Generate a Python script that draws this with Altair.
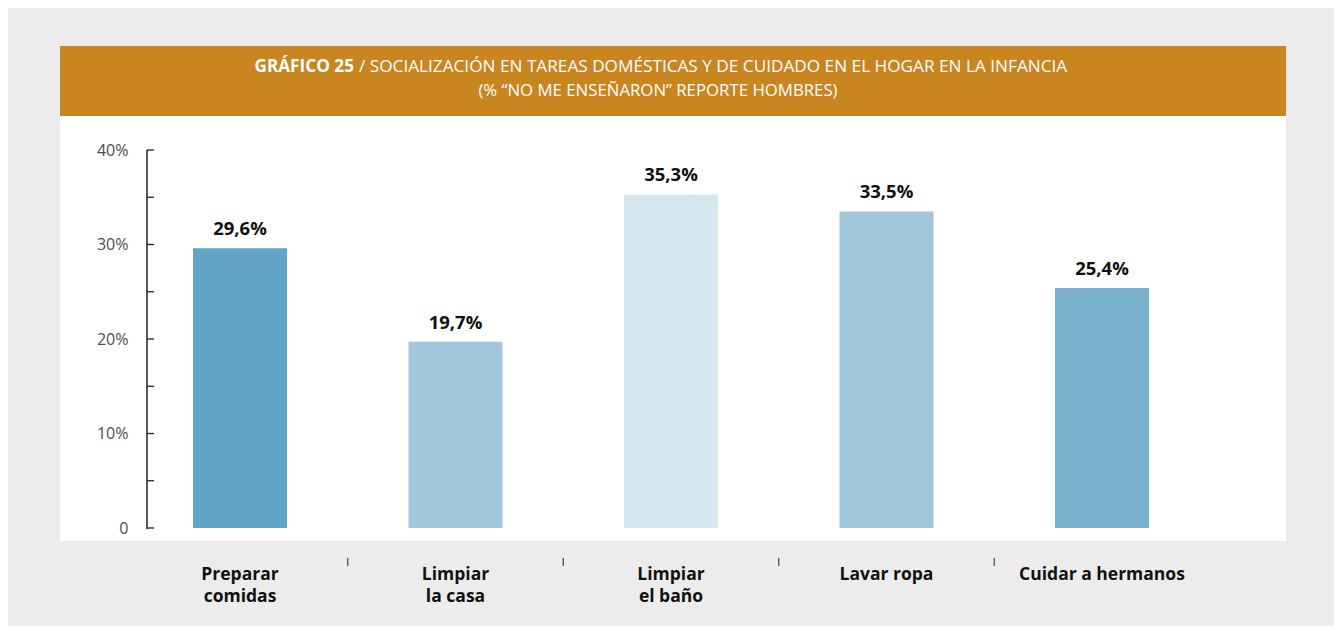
import altair as alt
import pandas as pd

# ---- data ----
categories = ["Preparar\ncomidas", "Limpiar\nla casa", "Limpiar\nel baño", "Lavar ropa", "Cuidar a hermanos"]
values = [29.6, 19.7, 35.3, 33.5, 25.4]
bar_colors = ["#62a4c5", "#a0c8da", "#d6e7ef", "#a0c8da", "#79b0cb"]
y_ticks = [0, 5, 10, 15, 20, 25, 30, 35, 40]
y_labels = [0, 10, 20, 30, 40]
title_bold = "GRÁFICO 25"
title_line1 = "/ SOCIALIZACIÓN EN TAREAS DOMÉSTICAS Y DE CUIDADO EN EL HOGAR EN LA INFANCIA"
title_line2 = "(% “NO ME ENSEÑARON” REPORTE HOMBRES)"

FONT = "Open Sans"
W, H = 1048, 378

df = pd.DataFrame({"cat": categories, "value": values, "color": bar_colors})
ticks_df = pd.DataFrame({"value": y_ticks})
sep_df = pd.DataFrame({"cat": categories[1:]})

xscale = alt.Scale(domain=categories, paddingInner=0.5638, paddingOuter=0.2135)
yscale = alt.Scale(domain=[0, 40], nice=False, zero=True)
yaxis = alt.Axis(title=None, values=y_labels, ticks=False, tickSize=0, domain=False,
                 grid=False, labelPadding=19, zindex=2,
                 labelExpr="datum.value == 0 ? '0' : datum.value + '%'",
                 labelFont=FONT, labelFontSize=16, labelFontWeight="normal",
                 labelColor="#4d4d4d")
xaxis = alt.Axis(title=None, ticks=False, domain=False, labelAngle=0, zindex=2,
                 labelExpr="split(datum.label, '\\n')",
                 labelPadding=37, labelBaseline="top", labelLineHeight=22,
                 labelFont=FONT, labelFontSize=17.5, labelFontWeight="bold",
                 labelColor="#111111")

one = alt.Data(values=[{}])

panel = alt.Chart(one).mark_rect(color="white").encode(
    x=alt.value(-87), x2=alt.value(1139), y=alt.value(-104), y2=alt.value(391)
)
band = alt.Chart(one).mark_rect(color="#c88520").encode(
    x=alt.value(-87), x2=alt.value(1139), y=alt.value(-104), y2=alt.value(-34)
)
t_bold = alt.Chart(one).mark_text(
    font=FONT, fontSize=17.2, fontWeight="bold", color="white", align="right", baseline="middle"
).encode(x=alt.value(207), y=alt.value(-83), text=alt.value(title_bold))
t_reg1 = alt.Chart(one).mark_text(
    font=FONT, fontSize=17.2, color="white", align="left", baseline="middle"
).encode(x=alt.value(212), y=alt.value(-83), text=alt.value(title_line1))
t_reg2 = alt.Chart(one).mark_text(
    font=FONT, fontSize=16.8, color="white", align="center", baseline="middle"
).encode(x=alt.value(511), y=alt.value(-59), text=alt.value(title_line2))

bars = alt.Chart(df).mark_bar().encode(
    x=alt.X("cat:N", scale=xscale, sort=categories, axis=xaxis),
    y=alt.Y("value:Q", scale=yscale, axis=yaxis),
    color=alt.Color("color:N", scale=None),
)

labels = alt.Chart(df).transform_calculate(
    lab="replace(format(datum.value, '.1f'), '.', ',') + '%'"
).mark_text(font=FONT, fontSize=18.5, fontWeight="bold", color="#111111",
            baseline="alphabetic", dy=-13).encode(
    x=alt.X("cat:N", scale=xscale, sort=categories, axis=xaxis),
    y=alt.Y("value:Q", scale=yscale, axis=yaxis),
    text="lab:N",
)

axis_line = alt.Chart(one).mark_rule(color="#222222", strokeWidth=1.5).encode(
    x=alt.value(0), y=alt.value(0), y2=alt.value(H + 1)
)
tick_rules = alt.Chart(ticks_df).mark_rule(color="#222222", strokeWidth=1.3).encode(
    y=alt.Y("value:Q", scale=yscale, axis=yaxis),
    x=alt.value(0), x2=alt.value(7),
)
seps = alt.Chart(sep_df).mark_rule(color="#444444", strokeWidth=1.2, xOffset=-60.75).encode(
    x=alt.X("cat:N", scale=xscale, sort=categories, bandPosition=0, axis=xaxis),
    y=alt.value(H + 30), y2=alt.value(H + 38),
)

chart = alt.layer(panel, band, t_bold, t_reg1, t_reg2, bars, labels, axis_line, tick_rules, seps).properties(
    width=W, height=H,
    autosize=alt.AutoSizeParams(type="none"),
    padding={"left": 139, "top": 142, "right": 139, "bottom": 98},
    background="#ececec",
).configure_view(stroke=None)

chart.save("out.html", embed_options={"renderer": "svg", "actions": False})
